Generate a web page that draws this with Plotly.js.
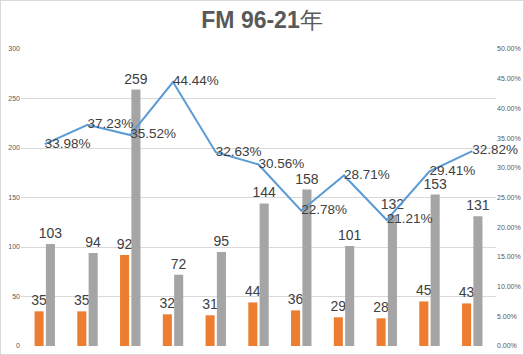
<!DOCTYPE html>
<html>
<head>
<meta charset="utf-8">
<script src="https://cdn.plot.ly/plotly-3.0.1.min.js"></script>
<style>
body{margin:0;padding:0;background:#fff;}
#wrap{position:relative;width:524px;height:355px;}
#chart{width:524px;height:355px;}
#frame{position:absolute;left:0;top:0;width:524px;height:355px;box-sizing:border-box;border:1px solid #d9d9d9;pointer-events:none;}
</style>
</head>
<body>
<div id="wrap"><div id="chart"></div><div id="frame"></div></div>
<script>
const categories = ['1','2','3','4','5','6','7','8','9','10','11'];
const orangeValues = [35,35,92,32,31,44,36,29,28,45,43];
const grayValues = [103,94,259,72,95,144,158,101,132,153,131];
const ratioValues = [33.98,37.23,35.52,44.44,32.63,30.56,22.78,28.71,21.21,29.41,32.82];
const leftTicks = [0,50,100,150,200,250,300];
const rightTicks = [0,5,10,15,20,25,30,35,40,45,50];

const labelFont = {family:'Liberation Sans, Arial, sans-serif', size:14, color:'#404040'};

const traces = [
  {type:'bar', x:categories, y:orangeValues, name:'A', marker:{color:'#ED7D31'},
   text:orangeValues.map(String), textposition:'outside', constraintext:'none', cliponaxis:false, textfont:labelFont},
  {type:'bar', x:categories, y:grayValues, name:'B', marker:{color:'#A5A5A5'},
   text:grayValues.map(String), textposition:'outside', constraintext:'none', cliponaxis:false, textfont:labelFont},
  {type:'scatter', mode:'lines+text', x:categories, y:ratioValues.map(v=>v/100), yaxis:'y2', name:'C',
   line:{color:'#5B9BD5', width:2}, text:ratioValues.map(v=>v.toFixed(2)+'%'),
   textposition:'middle right', cliponaxis:false, textfont:{family:'Liberation Sans, Arial, sans-serif', size:13.5, color:'#404040'}}
];

const layout = {
  width:524, height:355,
  margin:{l:21, r:28, t:49, b:9, pad:0},
  paper_bgcolor:'#fff', plot_bgcolor:'#fff',
  showlegend:false,
  barmode:'group', bargap:0.47, bargroupgap:0.2,
  title:{text:'<b>FM 96-21</b>年', x:0.5, xanchor:'center', y:0.945, yanchor:'middle',
         font:{family:'Liberation Sans, Arial, sans-serif', size:23, color:'#595959'}},
  xaxis:{type:'category', showticklabels:false, showgrid:false, zeroline:false, showline:false, ticks:''},
  yaxis:{range:[0,300], tickvals:leftTicks, ticktext:leftTicks.map(String), showgrid:true, gridcolor:'#d9d9d9', gridwidth:1,
         zeroline:false, showline:false, ticks:'', tickfont:{family:'Liberation Sans, Arial, sans-serif', size:7, color:'#595959'}},
  yaxis2:{overlaying:'y', side:'right', range:[0,0.5], tickvals:rightTicks.map(v=>v/100), ticktext:rightTicks.map(v=>v.toFixed(2)+'%'),
          showgrid:false, zeroline:false, showline:false, ticks:'', tickfont:{family:'Liberation Sans, Arial, sans-serif', size:7, color:'#595959'}}
};

Plotly.newPlot('chart', traces, layout, {displayModeBar:false, staticPlot:true});
</script>
</body>
</html>
